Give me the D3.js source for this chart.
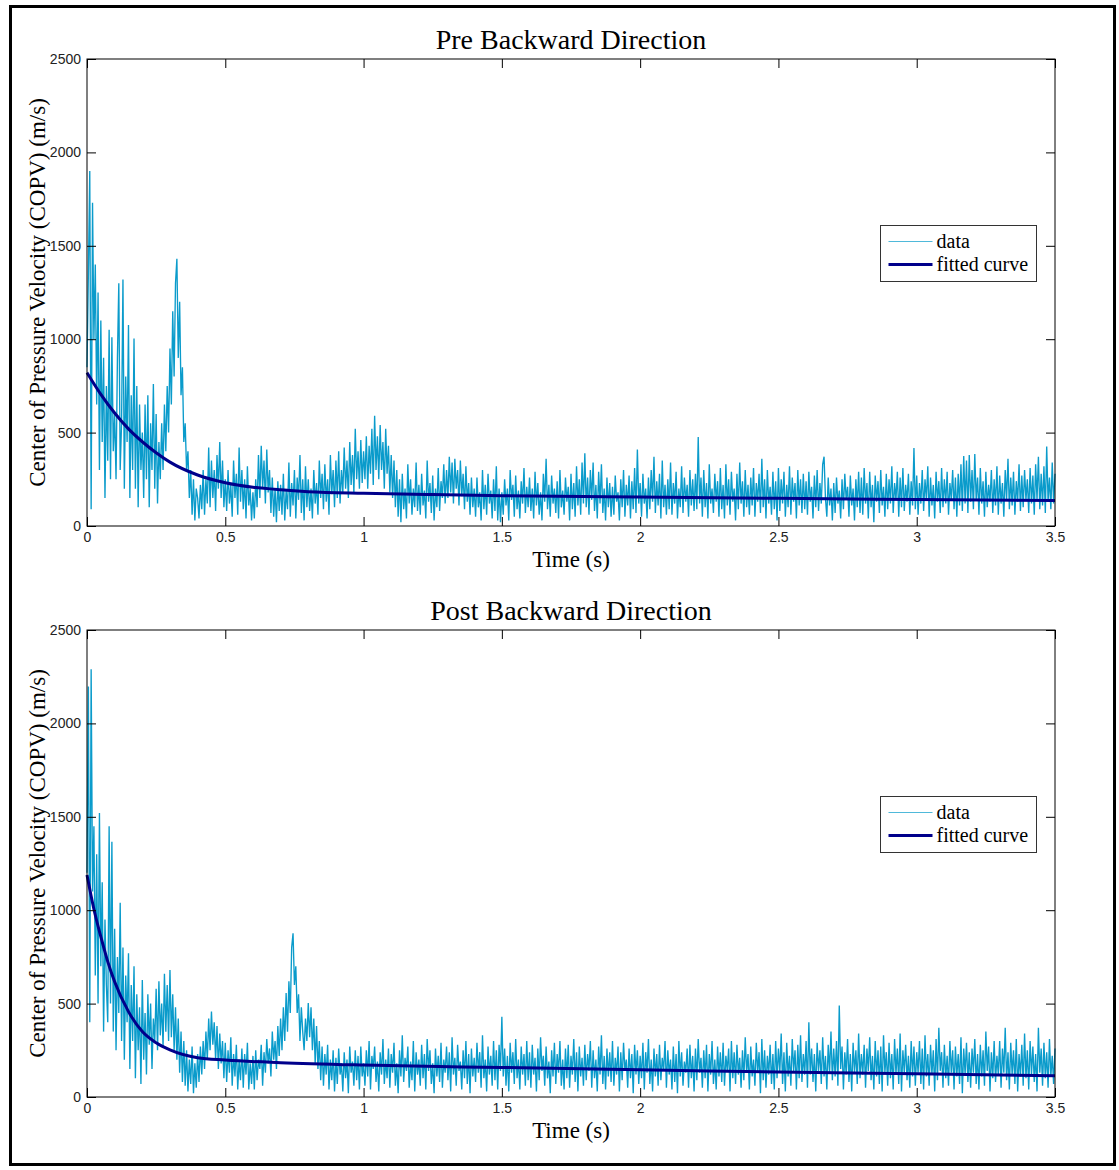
<!DOCTYPE html>
<html>
<head>
<meta charset="utf-8">
<script src="https://d3js.org/d3.v7.min.js"></script>
<style>
  body { margin: 0; background: #fff; }
</style>
</head>
<body>
<svg id="chart" width="1119" height="1170"></svg>
<script>
// sampling step of the recorded series (s)
var dataStep = 0.005;

// Pre backward COPV (m/s), one row per 0.1 s
var preData = [
  850,1350,1900,90,1730,1000,1400,650,1250,300,1100,450,900,150,750,350,1050,250,1010,400,
  600,250,900,1300,300,550,1320,200,800,450,1076,150,700,300,1004,200,750,100,650,300,
  500,150,650,250,700,100,550,300,760,200,600,120,450,250,550,300,650,400,750,500,
  950,650,1150,800,1300,1430,900,1200,700,850,450,550,300,400,150,300,60,250,30,200,
  150,40,220,90,300,60,250,120,420,100,350,150,300,80,380,200,450,150,350,100,
  250,80,300,120,220,50,350,150,280,60,420,130,300,90,250,40,320,110,200,30,
  180,40,250,100,380,150,430,200,350,120,410,180,300,70,260,50,200,20,240,80,
  220,60,280,30,190,90,340,50,230,110,300,40,260,140,380,70,250,30,320,100,
  250,80,200,40,300,120,230,60,350,150,280,90,330,130,250,60,380,170,300,100,
  350,150,400,120,300,180,420,200,350,150,450,220,380,180,520,250,400,200,460,230,
  400,250,480,200,430,280,520,220,590,300,480,250,540,300,450,200,520,280,430,180,
  380,150,350,100,300,50,250,20,280,90,200,40,330,120,250,60,200,100,340,80,
  220,60,280,110,190,40,350,130,230,70,270,30,200,100,310,80,240,150,330,120,
  300,150,370,180,340,120,360,200,300,110,350,160,280,90,320,130,230,60,260,100,
  200,50,260,100,180,30,300,90,220,60,280,120,190,40,250,80,320,30,200,20,
  180,60,250,110,200,30,300,140,220,50,270,90,190,40,240,120,310,70,210,100,
  260,80,200,40,290,110,230,60,180,30,280,130,360,90,220,50,270,120,200,70,
  240,40,300,100,190,60,260,130,210,30,280,90,230,50,320,110,250,60,340,120,
  390,100,260,60,300,140,340,80,220,40,290,120,330,70,200,30,260,100,230,50,
  210,60,270,130,180,30,250,100,300,50,220,110,270,40,240,90,310,70,410,120,
  230,50,280,120,200,40,260,90,300,130,370,70,240,110,280,40,350,100,220,60,
  250,90,340,60,230,120,290,40,200,100,320,70,260,130,220,50,300,110,250,80,
  280,90,476,120,260,50,300,100,230,40,330,120,200,70,280,130,240,50,310,90,
  220,40,330,110,250,60,290,130,200,30,280,90,340,120,240,50,300,100,220,60,
  260,110,310,50,230,130,280,70,360,100,250,40,300,120,210,60,290,90,240,30,
  310,80,250,120,290,50,220,100,320,60,260,130,230,40,300,110,250,70,280,90,
  240,60,290,130,210,40,270,100,300,80,230,120,330,371,150,50,260,110,200,30,
  230,70,260,120,190,40,250,90,280,140,210,50,270,110,200,30,250,100,290,70,
  260,60,310,120,230,40,290,100,220,20,270,130,240,70,300,110,210,50,280,90,
  250,120,320,70,230,140,290,50,260,100,310,80,220,130,280,60,240,110,417,90,
  270,60,230,120,300,80,250,140,320,50,260,110,220,40,290,130,240,70,310,100,
  250,120,290,60,230,140,300,90,260,50,280,110,330,80,375,120,350,70,380,130,
  300,90,385,140,260,60,310,120,240,50,290,100,220,130,300,70,250,110,320,60,
  270,120,230,50,300,140,360,90,260,110,290,60,240,130,330,80,270,100,300,140,
  250,70,310,120,270,60,330,140,370,90,280,110,320,70,425,130,260,90,340,120,280
];

// Post backward COPV (m/s), one row per 0.1 s
var postData = [
  1200,2197,400,2290,1100,1450,650,1300,500,1520,700,1150,350,950,600,400,1450,500,1367,350,
  900,250,750,450,1040,300,800,200,650,400,770,150,600,300,700,100,550,250,480,70,
  626,200,450,120,550,280,500,150,420,300,580,250,620,330,500,270,660,350,600,300,
  680,320,550,250,480,200,420,130,350,80,300,60,250,30,200,70,270,20,180,50,
  230,80,270,120,300,150,350,200,420,250,457,280,400,200,380,150,340,180,300,100,
  290,80,250,130,320,60,230,110,280,40,200,90,260,50,230,120,290,40,180,70,
  220,40,250,90,200,150,280,60,240,130,310,180,260,110,350,200,300,150,380,220,
  420,250,480,300,556,350,620,450,800,876,600,700,450,550,300,480,350,250,420,300,
  503,320,480,250,420,180,380,150,300,90,270,60,230,120,280,40,200,90,250,30,
  210,70,260,120,180,30,240,100,200,20,270,130,190,60,250,90,220,40,270,110,
  180,60,250,110,300,40,220,150,270,80,190,30,240,120,310,70,200,100,260,50,
  230,130,290,60,180,20,250,110,330,80,210,140,270,50,190,90,300,30,240,120,
  200,60,280,100,230,40,310,140,250,70,180,20,260,110,220,80,290,50,200,130,
  270,90,240,30,320,120,210,60,280,140,190,40,250,100,300,70,230,20,260,110,
  210,80,290,130,240,50,330,100,200,30,270,120,220,60,300,90,250,40,280,140,
  430,110,260,60,220,30,290,130,240,70,310,100,200,40,270,120,230,60,300,90,
  240,50,280,120,210,30,260,90,320,140,220,60,270,100,190,20,250,110,290,70,
  230,130,300,60,200,40,260,100,280,50,220,120,310,80,240,30,270,110,210,60,
  280,90,230,140,300,50,250,100,200,30,270,120,330,70,220,40,260,110,240,80,
  300,60,210,120,270,30,240,90,290,140,200,50,260,100,230,20,280,120,250,70,
  220,100,290,40,240,130,310,70,200,30,260,110,230,60,280,90,210,140,300,50,
  250,120,200,40,270,80,230,20,300,110,240,60,190,130,260,50,280,100,220,30,
  260,90,310,130,210,50,250,100,280,30,230,120,300,70,200,40,270,110,240,80,
  290,60,220,140,260,30,300,100,240,70,280,120,210,50,250,90,320,130,230,40,
  270,110,200,60,290,130,240,20,310,90,250,50,220,120,280,70,230,40,300,100,
  260,130,340,70,240,30,290,110,220,60,310,140,250,40,280,100,330,80,230,120,
  300,50,400,120,260,80,230,30,290,140,250,70,320,110,220,40,280,130,350,90,
  260,110,300,60,490,150,270,40,240,120,310,80,230,30,290,130,250,70,340,100,
  230,120,280,50,260,140,320,90,220,40,300,110,250,70,270,30,330,130,240,60,
  290,100,230,40,310,120,260,70,340,30,250,130,280,90,220,50,300,110,270,60,
  240,130,300,70,260,40,330,110,230,60,280,120,250,30,310,90,370,140,240,50,
  280,100,220,60,300,130,250,40,270,110,230,70,320,20,260,120,290,80,240,50,
  260,130,310,70,230,40,280,110,250,60,350,140,270,30,240,100,300,80,220,120,
  300,50,260,130,370,90,240,40,290,120,250,70,310,30,230,110,280,60,340,100,
  250,40,300,120,270,80,230,30,370,130,260,60,290,100,240,50,310,110,220,70,260
];

// fitted curves at these times
var preFitTime  = [0, 0.05, 0.1, 0.15, 0.2, 0.25, 0.3, 0.4, 0.5, 0.6, 0.7, 0.8, 1.0, 1.25, 1.5, 2.0, 2.5, 3.0, 3.5];
var preFitValue = [821, 705, 605, 520, 451, 392, 342, 273, 232, 208, 194, 184, 175, 168, 162, 155, 148, 142, 136];
var postFitTime  = [0, 0.025, 0.05, 0.075, 0.1, 0.15, 0.2, 0.25, 0.3, 0.4, 0.5, 0.7, 1.0, 1.5, 2.0, 2.5, 3.0, 3.5];
var postFitValue = [1188, 1005, 858, 725, 617, 457, 350, 290, 252, 210, 198, 184, 171, 158, 146, 134, 124, 114];

var xTicks = [0, 0.5, 1, 1.5, 2, 2.5, 3, 3.5];
var yTicks = [0, 500, 1000, 1500, 2000, 2500];
var titles = ["Pre Backward Direction", "Post Backward Direction"];
var xLabel = "Time (s)";
var yLabel = "Center of Pressure Velocity (COPV) (m/s)";
var legendLabels = ["data", "fitted curve"];

var dataColor = "#0a9bcb",
    fitColor = "#00008b";

var svg = d3.select("#chart");

svg.append("rect")
  .attr("width", 1119).attr("height", 1170)
  .attr("fill", "#fff");

// figure frame
svg.append("rect")
  .attr("x", 10.5).attr("y", 6.5)
  .attr("width", 1104).attr("height", 1158)
  .attr("fill", "none")
  .attr("stroke", "#000")
  .attr("stroke-width", 3);

var left = 87, right = 1055;

var panels = [
  { top: 59,  bottom: 526,  title: titles[0], data: preData,  fitT: preFitTime,  fitV: preFitValue },
  { top: 630, bottom: 1097, title: titles[1], data: postData, fitT: postFitTime, fitV: postFitValue }
];

panels.forEach(function(p) {
  var x = d3.scaleLinear().domain([0, 3.5]).range([left, right]);
  var y = d3.scaleLinear().domain([0, 2500]).range([p.bottom, p.top]);

  var g = svg.append("g");

  // raw data
  g.append("path")
    .datum(p.data)
    .attr("d", d3.line()
      .x(function(d, i) { return x(i * dataStep); })
      .y(function(d) { return y(d); }))
    .attr("fill", "none")
    .attr("stroke", dataColor)
    .attr("stroke-width", 1.35);

  // fitted curve
  g.append("path")
    .datum(p.fitT.map(function(t, i) { return [t, p.fitV[i]]; }))
    .attr("d", d3.line()
      .x(function(d) { return x(d[0]); })
      .y(function(d) { return y(d[1]); })
      .curve(d3.curveMonotoneX))
    .attr("fill", "none")
    .attr("stroke", fitColor)
    .attr("stroke-width", 3);

  // axes, ticks pointing inward like matlab
  var fmt = function(d) { return String(d); };
  var ax = [
    g.append("g").attr("transform", "translate(0," + p.bottom + ")")
      .call(d3.axisBottom(x).tickValues(xTicks).tickFormat(fmt).tickSize(-9).tickSizeOuter(0).tickPadding(6)),
    g.append("g").attr("transform", "translate(0," + p.top + ")")
      .call(d3.axisTop(x).tickValues(xTicks).tickFormat("").tickSize(-9).tickSizeOuter(0)),
    g.append("g").attr("transform", "translate(" + left + ",0)")
      .call(d3.axisLeft(y).tickValues(yTicks).tickFormat(fmt).tickSize(-9).tickSizeOuter(0).tickPadding(6)),
    g.append("g").attr("transform", "translate(" + right + ",0)")
      .call(d3.axisRight(y).tickValues(yTicks).tickFormat("").tickSize(-9).tickSizeOuter(0))
  ];
  ax.forEach(function(a) {
    a.select(".domain").remove();
    a.selectAll("line").attr("stroke", "#000");
    a.selectAll("text")
      .attr("fill", "#222")
      .style("font-family", "'Liberation Sans', Arial, sans-serif")
      .style("font-size", "14px");
  });

  // box
  g.append("rect")
    .attr("x", left).attr("y", p.top)
    .attr("width", right - left).attr("height", p.bottom - p.top)
    .attr("fill", "none")
    .attr("stroke", "#000")
    .attr("stroke-width", 1);

  var serif = "'Liberation Serif', 'Times New Roman', serif";

  g.append("text")
    .attr("x", (left + right) / 2).attr("y", p.top - 10)
    .attr("text-anchor", "middle")
    .style("font-family", serif).style("font-size", "28px")
    .text(p.title);

  g.append("text")
    .attr("x", (left + right) / 2).attr("y", p.bottom + 41)
    .attr("text-anchor", "middle")
    .style("font-family", serif).style("font-size", "23px")
    .text(xLabel);

  g.append("text")
    .attr("transform", "translate(45," + ((p.top + p.bottom) / 2) + ") rotate(-90)")
    .attr("text-anchor", "middle")
    .style("font-family", serif).style("font-size", "23px")
    .text(yLabel);

  // legend
  var lg = g.append("g").attr("transform", "translate(880.5," + (p.top + 166.5) + ")");
  lg.append("rect")
    .attr("width", 156).attr("height", 56)
    .attr("fill", "#fff")
    .attr("stroke", "#333")
    .attr("stroke-width", 1);
  lg.append("line")
    .attr("x1", 8).attr("x2", 52).attr("y1", 16).attr("y2", 16)
    .attr("stroke", "#4fb9da").attr("stroke-width", 1);
  lg.append("line")
    .attr("x1", 8).attr("x2", 52).attr("y1", 39).attr("y2", 39)
    .attr("stroke", fitColor).attr("stroke-width", 3);
  legendLabels.forEach(function(s, i) {
    lg.append("text")
      .attr("x", 56).attr("y", 22 + i * 23)
      .style("font-family", serif).style("font-size", "20px")
      .text(s);
  });
});
</script>
</body>
</html>
